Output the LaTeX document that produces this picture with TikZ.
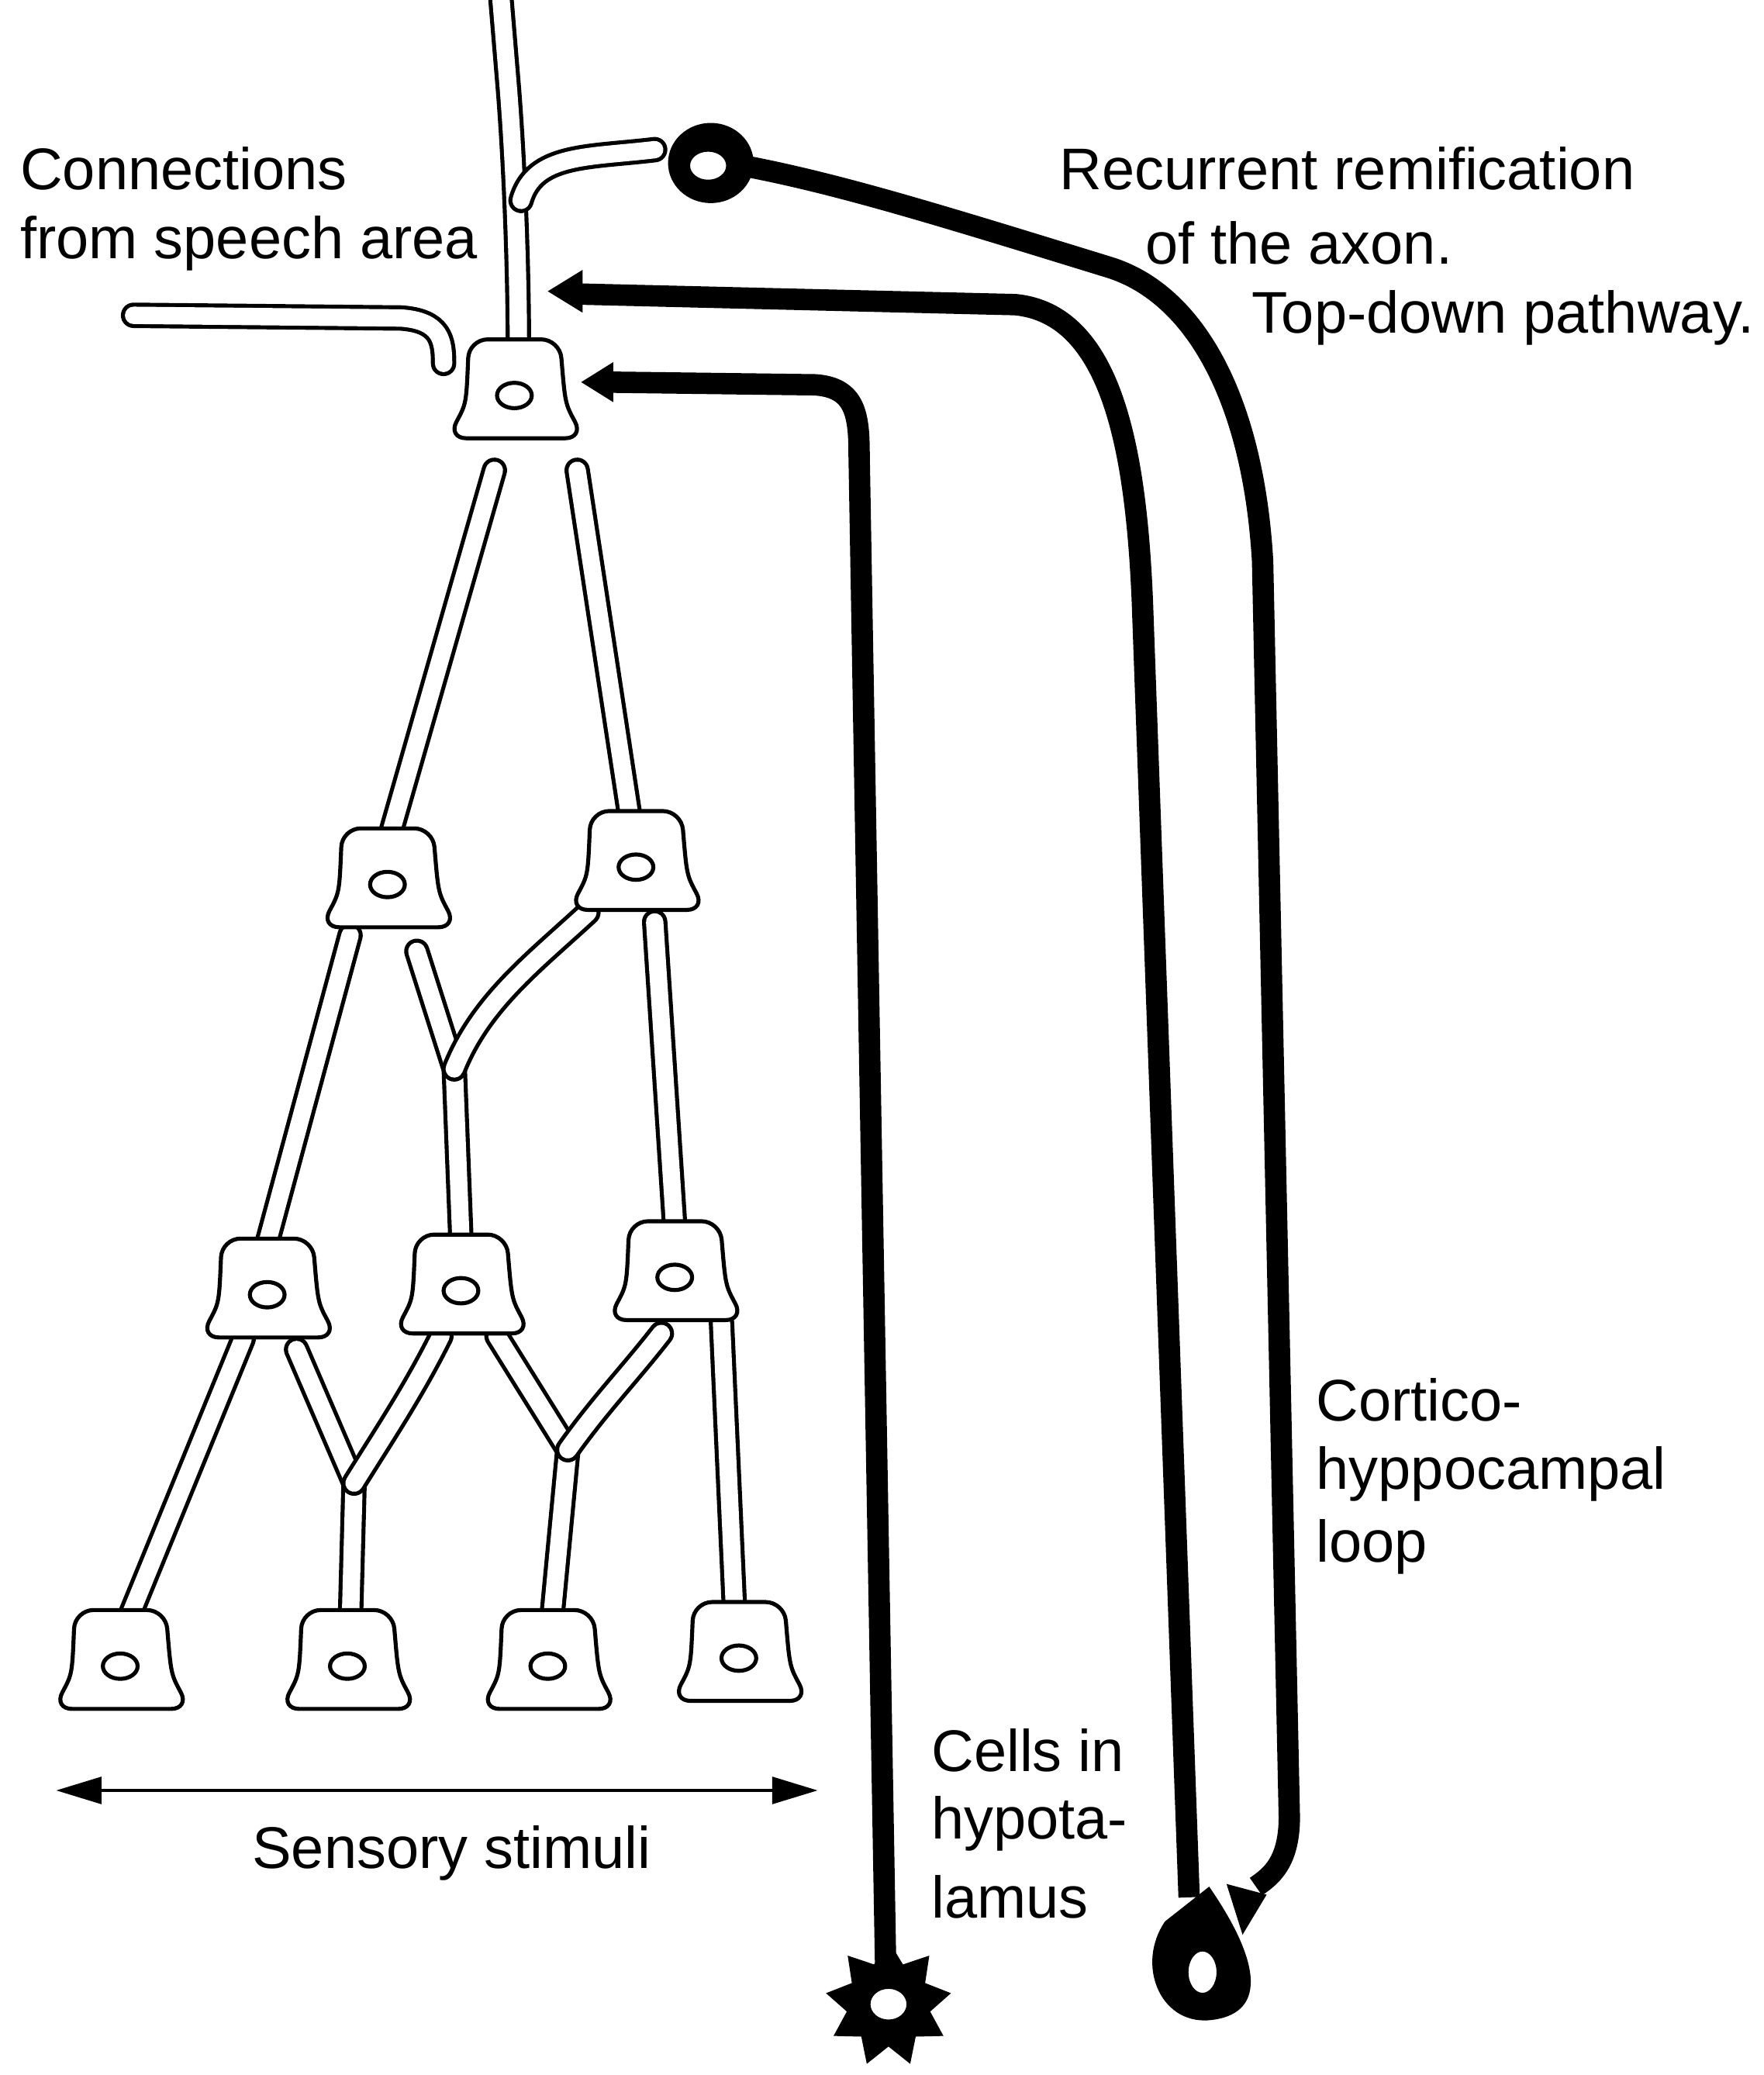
\documentclass[tikz,border=0pt]{standalone}
\usepackage{fontspec}
\setmainfont{Liberation Sans}
\usetikzlibrary{arrows.meta,shapes.geometric}
\tikzset{
  dend/.style={line width=3pt,double=white,double distance=13pt,line cap=round,line join=round},
  axon/.style={line width=16pt,line join=round},
  soma/.style={draw,line width=3pt,fill=white,rounded corners=14pt},
  nucl/.style={draw,line width=3pt,fill=white,ellipse,minimum width=26pt,minimum height=19pt,inner sep=0pt},
  lbl/.style={font=\fontsize{44}{55}\selectfont,align=left,inner sep=0pt}
}
\newcommand{\cellbody}[3]{% name, x, y
  \draw[soma] (#2-50,#3+36) .. controls (#2-36,#3+10) .. (#2-34,#3-38)
    -- (#2+34,#3-38) .. controls (#2+38,#3+10) .. (#2+52,#3+36) -- cycle;
  \node[nucl] (#1) at (#2,#3+4) {};
}
\begin{document}
\begin{tikzpicture}[x=1pt,y=-1pt]
\useasboundingbox (0,0) rectangle (1320,1553);
% hollow dendrites
\draw[dend] (375,0) -- (380,60) .. controls (385,120) and (388,200) .. (388,260);
\draw[dend] (390,150) .. controls (400,115) and (440,118) .. (490,112);
\draw[dend] (100,236) -- (300,238) .. controls (330,240) and (332,255) .. (332,272);
\draw[dend] (370,352) -- (292,625);
\draw[dend] (432,352) -- (472,615);
\draw[dend] (262,700) -- (200,930);
\draw[dend] (312,712) -- (340,800) -- (345,928);
\draw[dend] (340,800) .. controls (360,750) and (400,720) .. (440,683);
\draw[dend] (490,690) -- (505,918);
\draw[dend] (182,1002) -- (92,1222);
\draw[dend] (222,1010) -- (265,1110) -- (262,1222);
\draw[dend] (265,1110) .. controls (290,1070) and (310,1040) .. (330,1000);
\draw[dend] (372,1000) -- (425,1085) -- (412,1222);
\draw[dend] (425,1085) .. controls (450,1050) and (470,1030) .. (495,998);
\draw[dend] (540,990) -- (550,1210);
% somata
\cellbody{top}{385}{292}
\cellbody{ml}{290}{658}
\cellbody{mr}{476}{645}
\cellbody{ll}{200}{965}
\cellbody{lm}{345}{962}
\cellbody{lr}{505}{952}
\cellbody{b1}{90}{1243}
\cellbody{b2}{260}{1243}
\cellbody{b3}{410}{1243}
\cellbody{b4}{553}{1237}
% black axons
\coordinate (t1) at (930,1448);
\coordinate (t2) at (410,218);
\coordinate (t3) at (435,286);
\draw[axon] (545,122) .. controls (620,135) and (700,160) .. (830,200)
  .. controls (895,220) and (938,300) .. (945,420) -- (965,1360)
  .. controls (965,1395) and (950,1405) .. (940,1412);
\fill (t1) -- ++(-12,-38) -- ++(30,8) -- cycle;
\draw[axon] (430,220) -- (760,228) .. controls (830,235) and (850,330) .. (855,450)
  -- (890,1420);
\fill (t2) -- ++(26,-16) -- ++(0,32) -- cycle;
\draw[axon] (455,286) -- (610,288) .. controls (640,290) and (643,310) .. (643,340)
  -- (663,1480);
\fill (t3) -- ++(24,-15) -- ++(0,30) -- cycle;
% black cells
\fill (532,122) ellipse (32pt and 30pt);
\node[nucl,minimum width=30pt,minimum height=24pt] (src) at (530,124) {};
\fill (872,1438) .. controls (850,1470) and (868,1515) .. (905,1512)
  .. controls (948,1508) and (945,1470) .. (905,1412) -- cycle;
\node[nucl,minimum width=24pt,minimum height=34pt] (hip) at (900,1476) {};
\node[star,star points=9,star point ratio=1.5,fill=black,minimum size=95pt] (hyp) at (665,1500) {};
\node[nucl,minimum width=30pt,minimum height=26pt] at (hyp) {};
% stimulus arrow
\coordinate (sl) at (42,1340);
\coordinate (sr) at (612,1340);
\draw[line width=2.5pt,{Triangle[length=34pt,width=20pt]}-{Triangle[length=34pt,width=20pt]}] (sl) -- (sr);
% labels
\node[lbl,anchor=west] at (15,126) {Connections};
\node[lbl,anchor=west] at (15,182) {from speech area};
\node[lbl,anchor=west] at (793,126) {Recurrent remification};
\node[lbl,anchor=west] at (857,182) {of the axon.};
\node[lbl,anchor=west] at (937,238) {Top-down pathway.};
\node[lbl,anchor=west] at (985,1048) {Cortico-};
\node[lbl,anchor=west] at (985,1103) {hyppocampal};
\node[lbl,anchor=west] at (985,1158) {loop};
\node[lbl,anchor=west] at (697,1310) {Cells in};
\node[lbl,anchor=west] at (697,1365) {hypota-};
\node[lbl,anchor=west] at (697,1420) {lamus};
\node[lbl] at (338,1387) {Sensory stimuli};
\end{tikzpicture}
\end{document}
